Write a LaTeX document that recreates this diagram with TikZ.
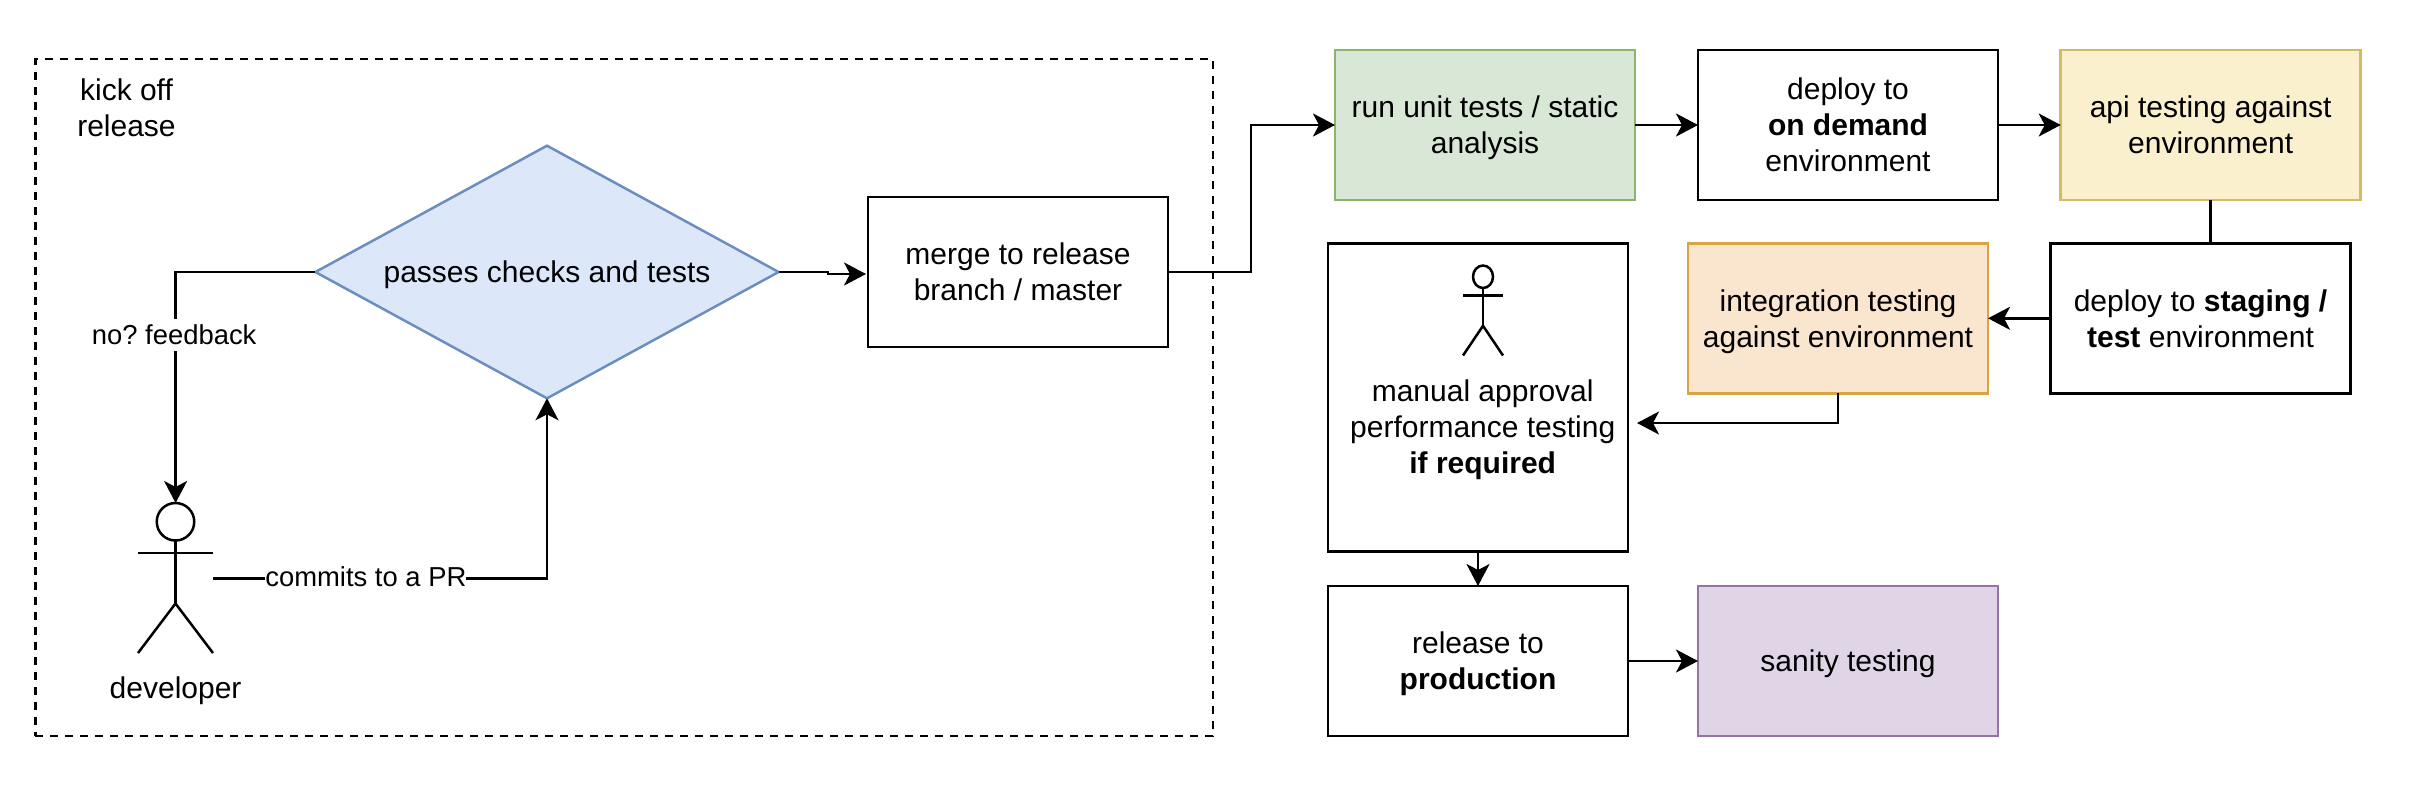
\documentclass[tikz,border=0pt]{standalone}
\usepackage{fontspec}
\setmainfont{Liberation Sans}
\usetikzlibrary{arrows.meta,shapes.geometric}

\definecolor{bluefill}{HTML}{DCE8FA}
\definecolor{bluedraw}{HTML}{6C8EBF}
\definecolor{greenfill}{HTML}{D9E7D6}
\definecolor{greendraw}{HTML}{8AB56F}
\definecolor{yellowfill}{HTML}{FBF0CE}
\definecolor{yellowdraw}{HTML}{D6B963}
\definecolor{orangefill}{HTML}{FAE6CF}
\definecolor{orangedraw}{HTML}{D9A441}
\definecolor{purplefill}{HTML}{E0D5E7}
\definecolor{purpledraw}{HTML}{9673A6}

\tikzset{
  stage/.style={draw=black, line width=1.25pt, minimum width=150pt, minimum height=75pt,
    inner sep=0pt, outer sep=0pt, align=center, text depth=0pt, font=\fontsize{15}{18}\selectfont\frenchspacing},
  txt/.style={inner sep=0pt, outer sep=0pt, align=center, text depth=0pt, font=\fontsize{15}{18}\selectfont\frenchspacing},
  edgelabel/.style={inner xsep=0pt, inner ysep=3pt, outer sep=0pt, fill=white, font=\fontsize{13.7}{16}\selectfont\frenchspacing},
  flow/.style={draw=black, line width=1.25pt, -{Stealth[length=11pt,width=11.5pt,inset=3pt]}},
  stickman/.pic={
    \draw[line width=1.25pt, fill=white] (37.5,18.75) ellipse (18.75 and 18.75);
    \draw[line width=1.25pt] (37.5,37.5) -- (37.5,100.5);
    \draw[line width=1.25pt] (0,50) -- (75,50);
    \draw[line width=1.25pt] (0,150) -- (37.5,100.5) -- (75,150);
  }
}

\begin{document}
\begin{tikzpicture}[x=0.5pt,y=-0.5pt]
  \useasboundingbox (0,0) rectangle (2418,794);

  \node[draw=black, line width=1.25pt, dash pattern=on 4pt off 3.5pt, minimum width=588.85pt, minimum height=338.5pt,
    inner sep=0pt, outer sep=0pt] (kickoff) at (624.2,397.5) {};
  \node[txt] (kicktext) at (126.5,108) {kick off\\release};

  \node[stage, diamond, aspect=1.82, draw=bluedraw, fill=bluefill, minimum width=231.6pt, minimum height=126.3pt] (passes) at (547,272) {passes checks and tests};
  \node[stage] (merge) at (1018,272) {merge to release\\branch / master};

  \node[stage, draw=greendraw, fill=greenfill] (unit) at (1485,125) {run unit tests / static\\analysis};
  \node[stage] (demand) at (1848,125) {deploy to\\\textbf{on demand}\\environment};
  \node[stage, draw=yellowdraw, fill=yellowfill] (api) at (2210.7,125) {api testing against\\environment};
  \node[stage] (staging) at (2200.5,318.3) {deploy to \textbf{staging /}\\\textbf{test} environment};
  \node[stage, draw=orangedraw, fill=orangefill] (integration) at (1838,318.3) {integration testing\\against environment};
  \node[stage, minimum height=154pt] (manual) at (1478,397.3) {};
  \node[txt] (manualtext) at (1482.7,427) {manual approval\\performance testing\\\textbf{if required}};
  \node[stage] (release) at (1478,661) {release to\\\textbf{production}};
  \node[stage, draw=purpledraw, fill=purplefill] (sanity) at (1848,661) {sanity testing};

  \pic[xscale=.5333,yscale=.6] at (1463,265.5) {stickman};
  \pic at (138,503) {stickman};
  \node[txt] (developer) at (175.6,688) {developer};
  \coordinate (devhead) at (175.6,503);
  \coordinate (devside) at (213.3,578.3);
  \coordinate (jog) at (828,272);
  \coordinate (mergein) at (866,274);
  \coordinate (manualin) at (1637,423);

  \draw[flow] (passes.west) -| (devhead) node[edgelabel, pos=.636, xshift=-.7pt] (nofeedback) {no? feedback};
  \draw[flow] (devside) -| (passes.south) node[edgelabel, pos=.2286, yshift=1pt] (commits) {commits to a PR};
  \draw[flow] (passes.east) -- (jog) -- (jog |- mergein) -- (mergein);
  \draw[flow] (merge.east) -- ++(83,0) |- (unit.west);
  \draw[flow] (unit.east) -- (demand.west);
  \draw[flow] (demand.east) -- (api.west);
  \draw[line width=1.25pt] (api.south) -- (api.south |- staging.north);
  \draw[flow] (staging.west) -- (integration.east);
  \draw[flow] (integration.south) |- (manualin);
  \draw[flow] (manual.south) -- (release.north);
  \draw[flow] (release.east) -- (sanity.west);
\end{tikzpicture}
\end{document}
